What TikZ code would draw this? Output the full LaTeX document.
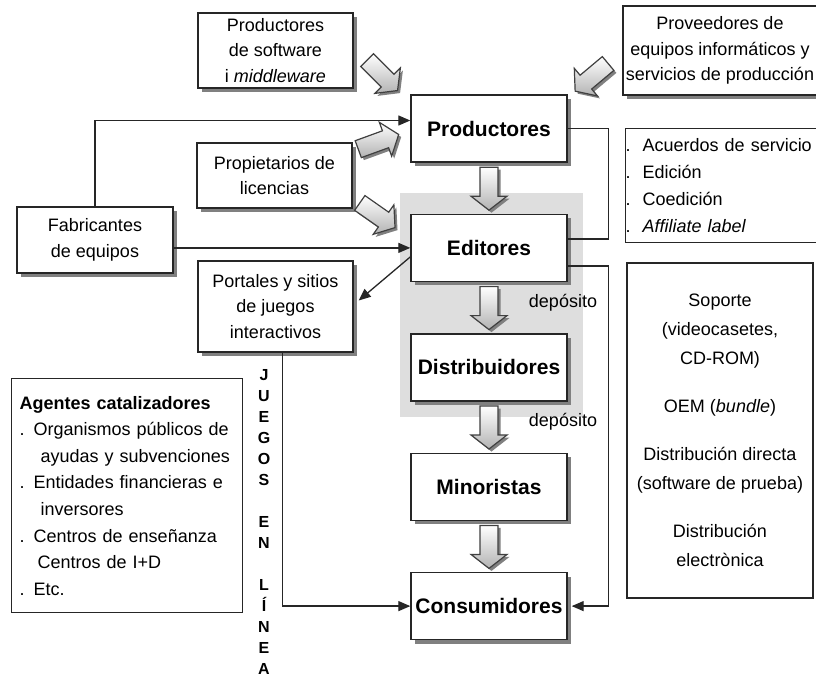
\documentclass[tikz,border=0pt]{standalone}
\usepackage{fontspec}
\setmainfont{Liberation Sans}
\usetikzlibrary{positioning,shadows,arrows.meta,calc,backgrounds}

\tikzset{
  box/.style={draw=black!85, line width=1.4pt, fill=white, align=center,
    drop shadow={shadow xshift=4pt, shadow yshift=-4pt, fill=black!50, opacity=1},
    font=\fontsize{18}{25.5}\selectfont},
  stage/.style={box, minimum width=156pt, minimum height=67pt,
    font=\bfseries\fontsize{21}{25}\selectfont},
  listbox/.style={draw=black!85, line width=1.4pt, fill=white, align=left},
  link/.style={line width=1.3pt, draw=black!85},
  arr/.style={-{Triangle[length=12pt,width=10pt]}},
  blockarrow/.pic={
    \path[draw=black!75, line width=1.2pt, top color=white, bottom color=black!30,
      drop shadow={shadow xshift=2.5pt, shadow yshift=-2.5pt, fill=black!50, opacity=1}]
      (-21,-9) -- (8,-9) -- (8,-18) -- (22,0) -- (8,18) -- (8,9) -- (-21,9) -- cycle;
  }
}

\begin{document}
\begin{tikzpicture}[x=1pt, y=-1pt, node distance=51pt]
\useasboundingbox (0,0) rectangle (816,680);
\clip (0,0) rectangle (816,680);

% cadena principal
\node[stage] (prod) at (489,128.5) {Productores};
\node[stage, below=of prod] (edit) {Editores};
\node[stage, below=of edit] (dist) {Distribuidores};
\node[stage, below=of dist] (mino) {Minoristas};
\node[stage, below=of mino] (cons) {Consumidores};

\begin{scope}[on background layer]
  \fill[white] (0,0) rectangle (816,680);
  \fill[black!13] ([xshift=-10pt,yshift=21pt]edit.north west) rectangle ([xshift=15pt,yshift=-15pt]dist.south east);
\end{scope}

% agentes de entrada
\node[box, minimum width=200pt, minimum height=89pt] (prov) at (723,50.5) {};
\node[font=\fontsize{18}{25.5}\selectfont, align=center] (provtxt) at (720,50.5) {Proveedores de\\equipos informáticos y\\servicios de producción};
\node[box, minimum width=155pt, minimum height=75pt] (soft) at (275.5,50.5) {Productores\\de software\\i \textit{middleware}};
\node[box, minimum width=155pt, minimum height=65pt] (prop) at (274.5,175.5) {Propietarios de\\licencias};
\node[box, minimum width=156pt, minimum height=66pt] (fab) at (95,240) {Fabricantes\\de equipos};
\node[box, minimum width=155pt, minimum height=91pt] (port) at (275.5,306.5) {Portales y sitios\\de juegos\\interactivos};

% listas
\node[listbox, anchor=north west, minimum width=197pt, minimum height=114pt, text width=197pt,
  inner xsep=0pt, font=\fontsize{18}{27}\selectfont] (acuer) at (625,128)
  {.\hspace{12pt}Acuerdos de servicio\\.\hspace{12pt}Edición\\.\hspace{12pt}Coedición\\.\hspace{12pt}\textit{Affiliate label}};
\node[listbox, align=center, minimum width=186pt, minimum height=335pt,
  font=\fontsize{18}{29}\selectfont] (sop) at (720,430.5)
  {Soporte\\(videocasetes,\\CD-ROM)\\[19pt]OEM (\textit{bundle})\\[19pt]Distribución directa\\(software de prueba)\\[19pt]Distribución\\electrònica};
\node[listbox, anchor=north west, minimum height=234pt, text width=215pt, inner xsep=8pt,
  font=\fontsize{18}{26.6}\selectfont] (agent) at (11,378)
  {\textbf{Agentes catalizadores}\\
   .\hspace{9pt}Organismos públicos de\\
   \hspace*{21pt}ayudas y subvenciones\\
   .\hspace{9pt}Entidades financieras e\\
   \hspace*{21pt}inversores\\
   .\hspace{9pt}Centros de enseñanza\\
   \hspace*{18pt}Centros de I+D\\
   .\hspace{9pt}Etc.};

\node[font=\bfseries\fontsize{16}{21}\selectfont, align=center] (juegos) at (264,522)
  {J\\U\\E\\G\\O\\S\\[21pt]E\\N\\[21pt]L\\Í\\N\\E\\A};
\node[font=\fontsize{18}{22}\selectfont] (dep1) at (563,303) {depósito};
\node[font=\fontsize{18}{22}\selectfont] (dep2) at (563,422) {depósito};

% conectores
\draw[link, arr] (fab.north) |- ([yshift=8pt]prod.west);
\draw[link, arr] (fab.east |- edit.west) -- (edit.west);
\draw[link, arr] ([yshift=-9pt]edit.west) -- ([xshift=5pt,yshift=6pt]port.east);
\draw[link, arr] ([xshift=7pt]port.south) |- (cons.west);
\draw[link] (prod.east) -- ++(41,0) |- ([yshift=9pt]edit.east);
\draw[link, arr] ([yshift=-18pt]edit.east) -- ++(41,0) |- ([xshift=4pt]cons.east);

% flechas gruesas
\pic[rotate=-90] at ($(prod.south)!0.5!(edit.north)$) {blockarrow};
\pic[rotate=-90] at ($(edit.south)!0.5!(dist.north)$) {blockarrow};
\pic[rotate=-90] at ($(dist.south)!0.5!(mino.north)$) {blockarrow};
\pic[rotate=-90] at ($(mino.south)!0.5!(cons.north)$) {blockarrow};
\pic[rotate=-45] at (382,75) {blockarrow};
\pic[rotate=20] at (378,142) {blockarrow};
\pic[rotate=-35] at (377,215) {blockarrow};
\pic[rotate=-140] at (592,77) {blockarrow};
\end{tikzpicture}
\end{document}
